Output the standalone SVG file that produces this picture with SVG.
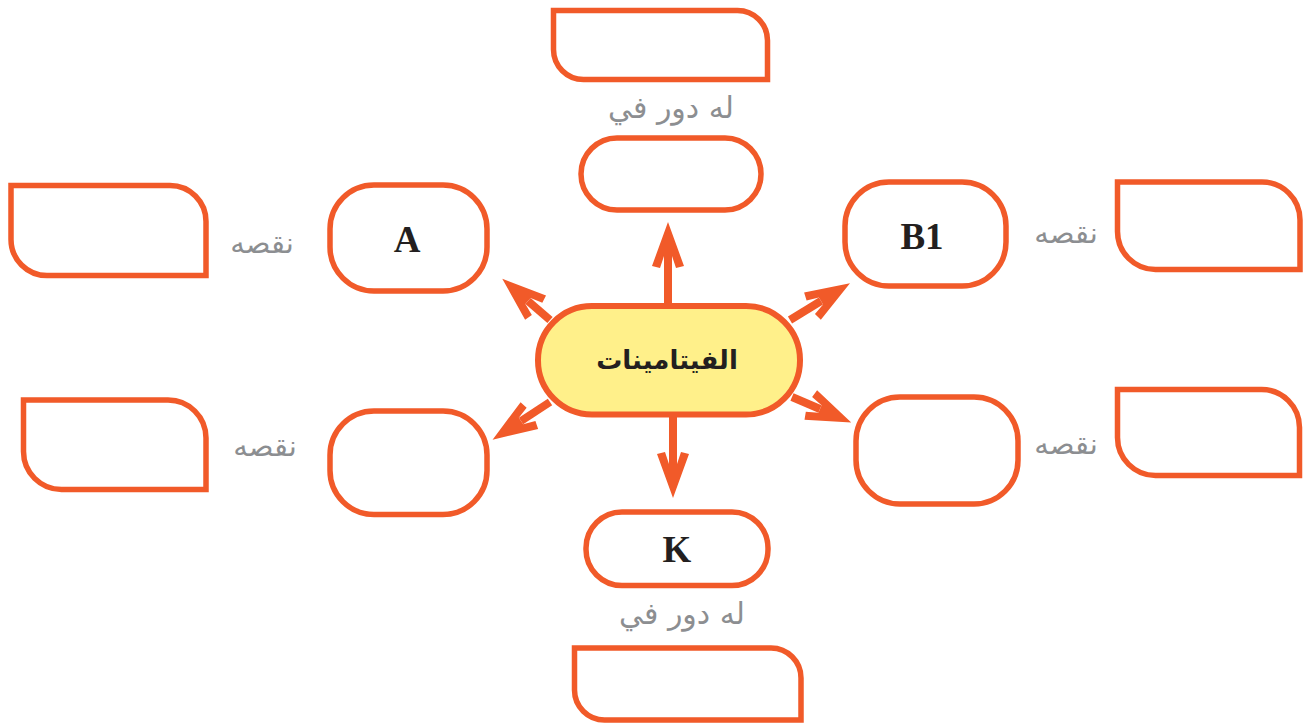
<svg xmlns="http://www.w3.org/2000/svg" width="1313" height="725" viewBox="0 0 1313 725">
<style>
.box{fill:#fff;stroke:#F15A29;stroke-width:5.5}
.node{fill:#fff;stroke:#F15A29;stroke-width:5.5}
.center{fill:#FFF08A;stroke:#F15A29;stroke-width:6}
.arrow{fill:none;stroke:#F15A29;stroke-width:8;marker-end:url(#head)}
.lbl{font-family:"DejaVu Sans",sans-serif;font-size:29px;fill:#8C8E91;text-anchor:middle}
.lbl2{font-family:"DejaVu Sans",sans-serif;font-size:30px;fill:#8C8E91;text-anchor:middle}
.let{font-family:"Liberation Serif",serif;font-weight:bold;font-size:37px;fill:#231F20;text-anchor:middle}
.ctr{font-family:"DejaVu Sans",sans-serif;font-weight:bold;font-size:26px;fill:#231F20;text-anchor:middle}
</style>
<defs>
<marker id="head" viewBox="-50 -20 55 40" refX="-34" refY="0" markerWidth="55" markerHeight="40" markerUnits="userSpaceOnUse" orient="auto">
<path d="M0,0 L-44,-16 L-46,-8 L-34,-4 L-34,4 L-46,8 L-44,16 Z" fill="#F15A29"/>
</marker>
</defs>
<g id="connectors">
<path class="arrow" d="M668,306 L668,256"/>
<path class="arrow" d="M673,414 L673,464"/>
<path class="arrow" d="M550,320 L528,301"/>
<path class="arrow" d="M790,320 L821,301"/>
<path class="arrow" d="M550,402 L521,421"/>
<path class="arrow" d="M792,397 L820,409"/>
</g>
<g id="center"><rect class="center" x="538" y="306" width="262" height="108.5" rx="54"/><text class="ctr" x="667" y="369">الفيتامينات</text></g>
<g id="node-top"><rect class="node" x="581" y="138" width="180" height="72" rx="36"/></g>
<g id="node-k"><rect class="node" x="586" y="512" width="182" height="73.5" rx="36"/><text class="let" x="677" y="562">K</text></g>
<g id="node-a"><rect class="node" x="330" y="185" width="157" height="106" rx="44"/><text class="let" x="407" y="252">A</text></g>
<g id="node-b1"><rect class="node" x="845" y="182" width="161" height="104" rx="44"/><text class="let" x="922" y="249">B1</text></g>
<g id="node-bl"><rect class="node" x="330" y="411" width="157" height="103.5" rx="44"/></g>
<g id="node-br"><rect class="node" x="856" y="397" width="162" height="107" rx="44"/></g>
<g id="leaf-top"><path class="box" d="M553.5,10.5 H737.5 A30,30 0 0 1 767.5,40.5 V79.5 H583.5 A30,30 0 0 1 553.5,49.5 Z"/><text class="lbl2" x="671" y="118">له دور في</text></g>
<g id="leaf-bottom"><path class="box" d="M574.5,648 H771 A30,30 0 0 1 801,678 V720 H604.5 A30,30 0 0 1 574.5,690 Z"/><text class="lbl2" x="682" y="624">له دور في</text></g>
<g id="leaf-lt"><path class="box" d="M11,185.5 H170 A36,36 0 0 1 206,221.5 V275.5 H47 A36,36 0 0 1 11,239.5 Z"/><text class="lbl" x="262" y="253">نقصه</text></g>
<g id="leaf-rt"><path class="box" d="M1117.5,182 H1262 A38,38 0 0 1 1300,220 V269.5 H1155.5 A38,38 0 0 1 1117.5,231.5 Z"/><text class="lbl" x="1066" y="243">نقصه</text></g>
<g id="leaf-lb"><path class="box" d="M23.5,400 H168 A38,38 0 0 1 206,438 V489.5 H61.5 A38,38 0 0 1 23.5,451.5 Z"/><text class="lbl" x="265" y="456">نقصه</text></g>
<g id="leaf-rb"><path class="box" d="M1117.5,389.5 H1261.5 A38,38 0 0 1 1299.5,427.5 V475.5 H1155.5 A38,38 0 0 1 1117.5,437.5 Z"/><text class="lbl" x="1066" y="454">نقصه</text></g>
</svg>
